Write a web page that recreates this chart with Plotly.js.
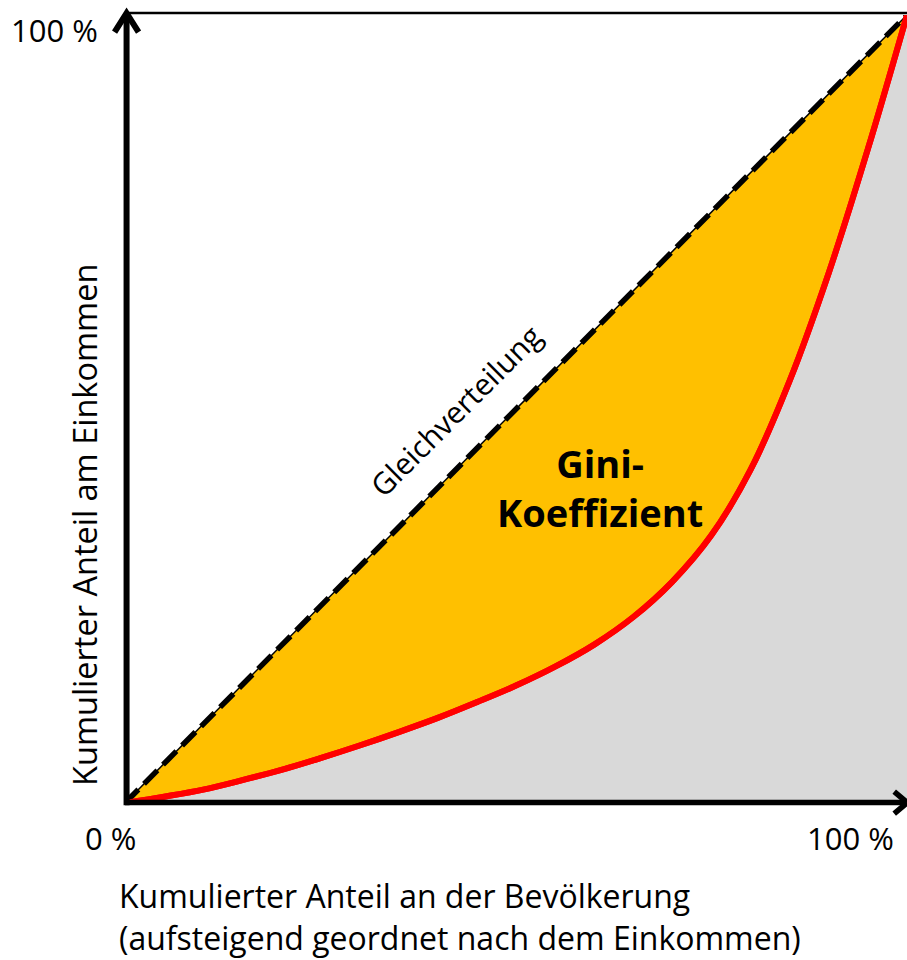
<!DOCTYPE html>
<html>
<head>
<meta charset="utf-8">
<script src="https://cdn.plot.ly/plotly-3.0.1.min.js"></script>
<style>html,body{margin:0;padding:0;background:#fff;}</style>
</head>
<body>
<div id="chart" style="width:907px;height:960px;"></div>
<script>
// Lorenz curve (cumulative share of population vs. cumulative share of income, in %)
const populationShare = [0, 5, 10, 15, 20, 25, 30, 35, 40, 45, 50, 55, 60, 65, 70, 75, 80, 85, 90, 95, 100];
const incomeShare     = [0, 0.8, 1.7, 2.9, 4.2, 5.7, 7.3, 9.0, 10.8, 12.8, 14.9, 17.3, 20.1, 23.6, 28.1, 34.0, 42.3, 53.6, 67.3, 83.0, 100];
// Line of equality
const equalityX = [0, 100];
const equalityY = [0, 100];

const FONT = '"Open Sans", "Noto Sans", sans-serif';

const traces = [
  { x: populationShare, y: incomeShare, mode: 'lines', line: {color: '#ff0000', width: 6, shape: 'spline', smoothing: 1},
    fill: 'tozeroy', fillcolor: '#d9d9d9', hoverinfo: 'skip' },
  { x: equalityX, y: equalityY, mode: 'lines', line: {color: '#000000', width: 1.5},
    fill: 'tonexty', fillcolor: '#ffc000', hoverinfo: 'skip' },
  { x: equalityX, y: equalityY, mode: 'lines', line: {color: '#000000', width: 5.5, dash: '19px,8px'}, hoverinfo: 'skip' },
  { x: populationShare, y: incomeShare, mode: 'lines', line: {color: '#ff0000', width: 6, shape: 'spline', smoothing: 1}, hoverinfo: 'skip' }
];

const layout = {
  width: 907, height: 960,
  margin: {l: 125, r: 0, t: 15, b: 157, pad: 0},
  paper_bgcolor: '#ffffff', plot_bgcolor: '#ffffff',
  showlegend: false,
  xaxis: {range: [0, 100], showgrid: false, zeroline: false, showticklabels: false, ticks: '', showline: false, fixedrange: true},
  yaxis: {range: [0, 100], showgrid: false, zeroline: false, showticklabels: false, ticks: '', showline: false, fixedrange: true},
  shapes: [
    // top frame line
    {type: 'line', xref: 'paper', yref: 'paper', x0: 0, x1: 1.01, y0: 1.0025, y1: 1.0025, line: {color: '#000', width: 2.5}, layer: 'above'},
    // y axis
    {type: 'line', xref: 'paper', yref: 'paper', x0: 0.002, x1: 0.002, y0: -0.003, y1: 1.0025, line: {color: '#000', width: 6}, layer: 'above'},
    // x axis
    {type: 'line', xref: 'paper', yref: 'paper', x0: 0, x1: 0.999, y0: 0.0005, y1: 0.0005, line: {color: '#000', width: 5.5}, layer: 'above'},
    // arrow heads
    {type: 'path', xref: 'paper', yref: 'paper', xsizemode: 'pixel', ysizemode: 'pixel', xanchor: 0.002, yanchor: 1.0025,
     path: 'M-12,-19 L0,0 L12,-19', line: {color: '#000', width: 6}, layer: 'above'},
    {type: 'path', xref: 'paper', yref: 'paper', xsizemode: 'pixel', ysizemode: 'pixel', xanchor: 0.999, yanchor: 0.0005,
     path: 'M-12,11 L1,0 L-12,-11', line: {color: '#000', width: 5.5}, layer: 'above'}
  ],
  annotations: [
    {text: '100 %', xref: 'paper', yref: 'paper', x: -0.032, y: 0.981, xanchor: 'right', yanchor: 'middle', showarrow: false,
     font: {family: FONT, size: 31, color: '#000'}},
    {text: '0 %', xref: 'paper', yref: 'paper', x: -0.019, y: -0.044, xanchor: 'center', yanchor: 'middle', showarrow: false,
     font: {family: FONT, size: 31, color: '#000'}},
    {text: '100 %', xref: 'paper', yref: 'paper', x: 0.928, y: -0.044, xanchor: 'center', yanchor: 'middle', showarrow: false,
     font: {family: FONT, size: 31, color: '#000'}},
    {text: 'Kumulierter Anteil am Einkommen', xref: 'paper', yref: 'paper', x: -0.051, y: 0.353, xanchor: 'center', yanchor: 'middle',
     textangle: -90, showarrow: false, font: {family: FONT, size: 32.5, color: '#000'}},
    {text: 'Kumulierter Anteil an der Bevölkerung<br>(aufsteigend geordnet nach dem Einkommen)', xref: 'paper', yref: 'paper',
     x: -0.010, y: -0.1435, xanchor: 'left', yanchor: 'middle', align: 'left', showarrow: false,
     font: {family: FONT, size: 32, color: '#000'}},
    {text: 'Gleichverteilung', xref: 'paper', yref: 'paper', x: 0.4225, y: 0.4987, xanchor: 'center', yanchor: 'middle',
     textangle: -45, showarrow: false, font: {family: FONT, size: 30, color: '#000'}},
    {text: '<b>Gini-</b><br><b>Koeffizient</b>', xref: 'paper', yref: 'paper', x: 0.608, y: 0.40, xanchor: 'center', yanchor: 'middle',
     align: 'center', showarrow: false, font: {family: FONT, size: 38, color: '#000'}}
  ]
};

Plotly.newPlot('chart', traces, layout, {staticPlot: true, displayModeBar: false});
</script>
</body>
</html>
